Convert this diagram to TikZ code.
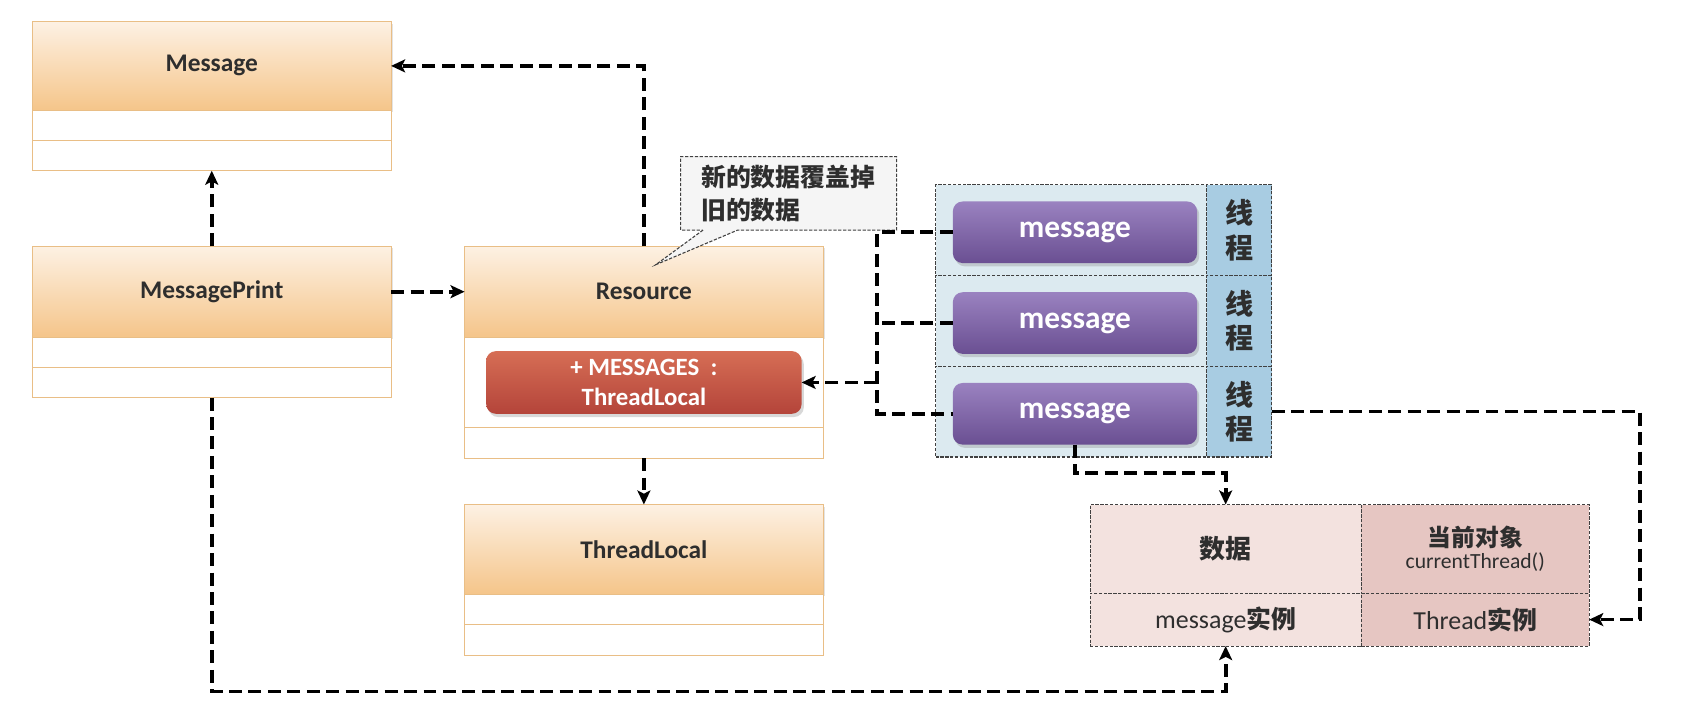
\documentclass[tikz,border=0pt]{standalone}
\usepackage{fontspec}
\setmainfont{Carlito}
\newfontfamily\cjk{Noto Sans CJK SC}
\usetikzlibrary{arrows.meta,shapes.callouts,shadows,positioning}
\definecolor{hdtop}{HTML}{FDF1E3}
\definecolor{hdbot}{HTML}{F5C58A}
\definecolor{hdline}{HTML}{E9BE86}
\definecolor{redtop}{HTML}{D66E55}
\definecolor{redbot}{HTML}{B4443A}
\definecolor{purtop}{HTML}{9A82C0}
\definecolor{purbot}{HTML}{6A4F92}
\definecolor{panel}{HTML}{DCEAF0}
\definecolor{panelr}{HTML}{A8CCE2}
\definecolor{cellL}{HTML}{F3E2DF}
\definecolor{cellR}{HTML}{E6C6C2}
\definecolor{txt}{HTML}{2E2E2E}
\begin{document}
\begin{tikzpicture}[x=1pt,y=-1pt,
  every node/.style={inner sep=0pt,outer sep=0pt},
  shd/.style={drop shadow={opacity=0.22,shadow xshift=2pt,shadow yshift=-2pt}},
  classhead/.style={draw=hdline,line width=1pt,top color=hdtop,bottom color=hdbot,
    minimum width=332pt,text=txt,font=\bfseries\fontsize{23.5}{26}\selectfont},
  classstrip/.style={draw=hdline,line width=1pt,fill=white,minimum width=332pt},
  redbox/.style={rounded corners=9pt,top color=redtop,bottom color=redbot,draw=none,
    minimum width=292pt,minimum height=58pt,text=white,align=center,
    font=\bfseries\fontsize{23}{27}\selectfont,drop shadow={opacity=0.3,shadow xshift=2pt,shadow yshift=-3pt}},
  msgbox/.style={rounded corners=9pt,top color=purtop,bottom color=purbot,draw=none,
    minimum width=226pt,minimum height=57pt,text=white,
    font=\bfseries\fontsize{29}{32}\selectfont,drop shadow={opacity=0.3,shadow xshift=2pt,shadow yshift=-3pt}},
  thin dash/.style={draw=black!75,line width=1pt,dash pattern=on 3pt off 1.5pt},
  rowL/.style={thin dash,fill=panel,minimum width=251pt,minimum height=84pt},
  rowR/.style={thin dash,fill=panelr,minimum width=60pt,minimum height=84pt,align=center,
    font=\cjk\bfseries\fontsize{26}{32}\selectfont,text=txt},
  cellstyle/.style={thin dash,align=center,text=txt},
  conn/.style={line width=3.4pt,dash pattern=on 12pt off 6pt,-{Stealth[length=13pt,width=12pt,inset=3pt]}},
  dline/.style={line width=3.4pt,dash pattern=on 12pt off 6pt}]
\useasboundingbox (0,0) rectangle (1568,665);
\fill[white] (0,0) rectangle (1568,665);

% Message
\node[classhead,minimum height=82pt,shd] (msg) at (196,61) {Message};
\node[classstrip,minimum height=28pt,below=0pt of msg] (msg1) {};
\node[classstrip,minimum height=28pt,below=0pt of msg1] (msg2) {};

% MessagePrint
\node[classhead,minimum height=84pt,shd] (mp) at (196,270) {MessagePrint};
\node[classstrip,minimum height=28pt,below=0pt of mp] (mp1) {};
\node[classstrip,minimum height=28pt,below=0pt of mp1] (mp2) {};

% Resource
\node[classhead,minimum height=84pt,shd] (res) at (596,270) {Resource};
\node[classstrip,minimum height=84pt,below=0pt of res] (res1) {};
\node[classstrip,minimum height=28pt,below=0pt of res1] (res2) {};
\node[redbox] (red) at (596,354) {+ MESSAGES\ \ :\\ThreadLocal};

% ThreadLocal
\node[classhead,minimum height=83pt,shd] (tl) at (596,508.5) {ThreadLocal};
\node[classstrip,minimum height=28pt,below=0pt of tl] (tl1) {};
\node[classstrip,minimum height=29pt,below=0pt of tl1] (tl2) {};

% callout
\node[rectangle callout,thin dash,fill=black!4,minimum width=200pt,minimum height=68pt,
  text width=162pt,align=left,font=\cjk\bfseries\fontsize{23}{30}\selectfont,text=txt,
  callout pointer width=32pt,
  callout absolute pointer={(607,245)}] (call) at (730,179) {新的数据覆盖掉\\旧的数据};

% thread panel
\node[rowL] (r1) at (991.5,213) {};
\node[rowR] (t1) at (1147,213) {线\\程};
\node[rowL] (r2) at (991.5,297) {};
\node[rowR] (t2) at (1147,297) {线\\程};
\node[rowL] (r3) at (991.5,381) {};
\node[rowR] (t3) at (1147,381) {线\\程};
\node[msgbox] (m1) at (995,215) {message};
\node[msgbox] (m2) at (995,299) {message};
\node[msgbox] (m3) at (995,383) {message};

% data table
\node[cellstyle,fill=cellL,minimum width=251pt,minimum height=82pt,
  font=\cjk\bfseries\fontsize{24}{26}\selectfont] (d1) at (1134.5,508) {数据};
\node[cellstyle,fill=cellR,minimum width=211pt,minimum height=82pt] (d2) at (1365.5,508)
  {{\cjk\bfseries\fontsize{22}{25}\selectfont 当前对象}\\[2pt]{\fontsize{20}{22}\selectfont currentThread()}};
\node[cellstyle,fill=cellL,minimum width=251pt,minimum height=49pt,
  font=\fontsize{24}{26}\selectfont] (d3) at (1134.5,573.5) {message{\cjk\bfseries\fontsize{23}{26}\selectfont 实例}};
\node[cellstyle,fill=cellR,minimum width=211pt,minimum height=49pt,
  font=\fontsize{24}{26}\selectfont] (d4) at (1365.5,573.5) {Thread{\cjk\bfseries\fontsize{23}{26}\selectfont 实例}};

% connectors
\draw[conn] (res.north) |- (msg.east);
\draw[conn] (mp.north) -- (msg2.south);
\draw[conn] (mp.east) -- (res.west);
\draw[conn] (res2.south) -- (tl.north);

\coordinate (bt) at (812,215);
\coordinate (bb) at (812,383);
\draw[dline] (m1.west) -- (bt) -- (bb) -- (m3.west);
\draw[dline] (m2.west) -- (m2.west -| bt);
\draw[conn] (bt |- red.east) -- (red.east);

\coordinate (f1) at (995,438);
\draw[conn] (m3.south) -- (f1) -| (d1.north);
\coordinate (g1) at (1518,381);
\draw[conn] (t3.east) -- (g1) |- (d4.east);
\coordinate (h1) at (196,640);
\draw[conn] (mp2.south) -- (h1) -| (d3.south);
\end{tikzpicture}
\end{document}
